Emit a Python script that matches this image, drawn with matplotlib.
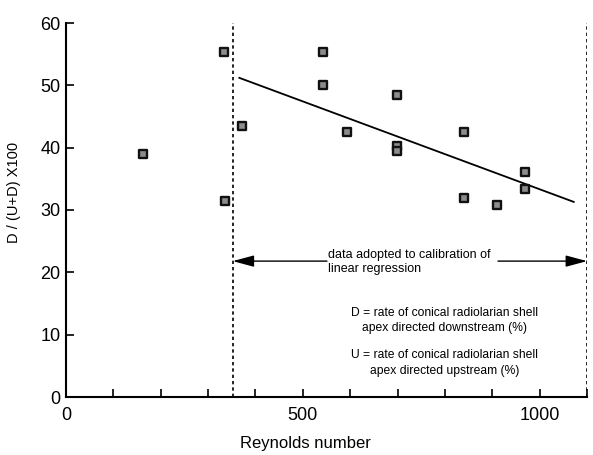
import matplotlib
matplotlib.use("Agg")
import matplotlib.pyplot as plt

plt.rcParams['font.family'] = ['Liberation Sans', 'DejaVu Sans']

# data
reynolds = [162, 334, 335, 372, 543, 543, 594, 699, 699, 699, 840, 840, 911, 969, 969]
ratio = [39.0, 55.3, 31.5, 43.5, 55.3, 50.1, 42.5, 48.4, 40.2, 39.4, 42.5, 31.9, 30.8, 36.1, 33.3]
reg_x = [366, 1072]
reg_y = [51.2, 31.3]
bounds = [352, 1100]
xticks_major = [0, 500, 1000]
yticks = [0, 10, 20, 30, 40, 50, 60]

fig = plt.figure(figsize=(5.93, 4.55), dpi=100)
ax = fig.add_axes([66/593, 1-397/455, (587-66)/593, (397-23)/455])

ax.plot(reg_x, reg_y, color='black', lw=1.3, zorder=2)
ax.scatter(reynolds, ratio, marker='s', s=36, facecolor='#8c8c8c',
           edgecolor='#111111', linewidths=1.7, zorder=3)

for b in bounds:
    ax.plot([b, b], [0, 60], color='black', lw=1.2, ls=(0, (2, 1.8)), zorder=1)

# arrows
ax.annotate('', xy=(bounds[0], 21.8), xytext=(551, 21.8),
            arrowprops=dict(arrowstyle='-|>,head_length=1.3,head_width=0.35',
                            color='black', lw=1.0, shrinkA=0, shrinkB=0))
ax.annotate('', xy=(bounds[1], 21.8), xytext=(912, 21.8),
            arrowprops=dict(arrowstyle='-|>,head_length=1.3,head_width=0.35',
                            color='black', lw=1.0, shrinkA=0, shrinkB=0))
ax.text(553, 21.6, 'data adopted to calibration of\nlinear regression',
        fontsize=9, ha='left', va='center', linespacing=1.25)

ax.text(800, 12.3, 'D = rate of conical radiolarian shell\napex directed downstream (%)',
        fontsize=8.7, ha='center', va='center', multialignment='center', linespacing=1.4)
ax.text(800, 5.5, 'U = rate of conical radiolarian shell\napex directed upstream (%)',
        fontsize=8.7, ha='center', va='center', multialignment='center', linespacing=1.4)

ax.set_xlim(0, 1100)
ax.set_ylim(0, 60)
ax.set_xticks(xticks_major)
ax.set_xticks(range(0, 1101, 100), minor=True)
ax.set_yticks(yticks)
ax.tick_params(axis='both', which='both', direction='in', labelsize=13, width=1.2)
ax.tick_params(axis='x', which='both', length=6, pad=7)
ax.tick_params(axis='y', length=6, pad=4)
ax.spines['top'].set_visible(False)
ax.spines['right'].set_visible(False)
for s in ('left', 'bottom'):
    ax.spines[s].set_linewidth(1.5)

ax.set_xlabel('Reynolds number', fontsize=12)
ax.xaxis.set_label_coords(0.459, -0.105)
ax.set_ylabel('D / (U+D) X100', fontsize=10.5)
ax.yaxis.set_label_coords(-0.086, 0.548)

fig.savefig('out.png', dpi=100)
